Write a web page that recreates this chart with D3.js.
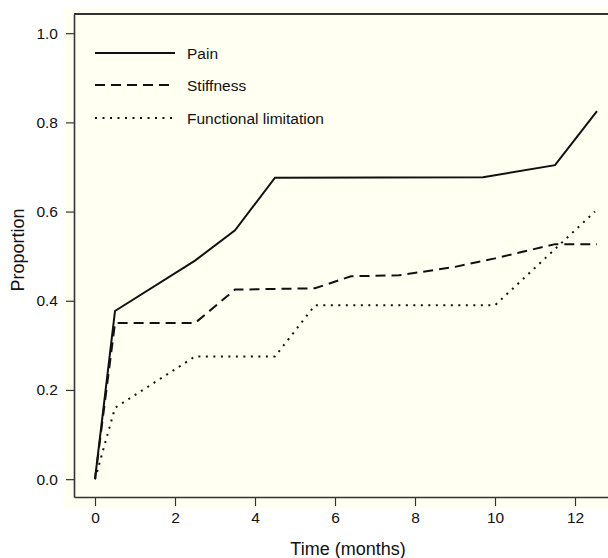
<!DOCTYPE html>
<meta charset="utf-8">
<style>
    body { margin: 0; background: #fff; }
    text { font-family: "Liberation Sans", Arial, sans-serif; fill: #111; }
    .line { fill: none; stroke: #111; stroke-width: 2; }
</style>
<body>
<script src="https://d3js.org/d3.v7.min.js"></script>
<script>
    // values
    const painMonths = [0, 0.5, 2.5, 3.5, 4.5, 9.7, 11.5, 12.55];
    const painValues = [0, 0.377, 0.49, 0.558, 0.676, 0.677, 0.704, 0.825];
    const stiffMonths = [0, 0.5, 2.5, 3.5, 5.5, 6.4, 7.6, 9, 10, 11.5, 12.55];
    const stiffValues = [0, 0.35, 0.35, 0.425, 0.428, 0.455, 0.457, 0.476, 0.495, 0.527, 0.527];
    const funcMonths = [0, 0.5, 2.5, 4.5, 5.5, 10, 12.5];
    const funcValues = [0, 0.16, 0.275, 0.275, 0.39, 0.39, 0.6];

    const seriesNames = ["Pain", "Stiffness", "Functional limitation"];
    const xTicks = [0, 2, 4, 6, 8, 10, 12];
    const yTicks = [0, 0.2, 0.4, 0.6, 0.8, 1.0];

    const width = 608, height = 558;
    const plot = {left: 74, top: 14, right: 609, bottom: 497};

    let x = d3.scaleLinear().domain([-0.525, 12.85]).range([plot.left, plot.right]);
    let y = d3.scaleLinear().domain([-0.04, 1.043]).range([plot.bottom, plot.top]);

    let svg = d3.select("body").append("svg")
        .attr("width", width)
        .attr("height", height);

    // cream panel behind the plot
    svg.append("rect")
        .attr("x", 63).attr("y", 7)
        .attr("width", width - 63).attr("height", 502)
        .attr("fill", "#fffff2");

    // frame: top line
    svg.append("line")
        .attr("x1", plot.left).attr("x2", width)
        .attr("y1", plot.top).attr("y2", plot.top)
        .attr("stroke", "#333").attr("stroke-width", 2);

    // axes
    svg.append("g")
        .attr("transform", "translate(" + plot.left + ",0)")
        .call(d3.axisLeft(y).tickValues(yTicks).tickFormat(d3.format(".1f"))
            .tickSize(8).tickSizeOuter(0).tickPadding(8));

    svg.append("g")
        .attr("transform", "translate(0," + plot.bottom + ")")
        .call(d3.axisBottom(x).tickValues(xTicks).tickFormat(d3.format("d"))
            .tickSize(9).tickSizeOuter(0).tickPadding(6));

    svg.selectAll(".domain").attr("stroke", "#333").attr("stroke-width", 1.6);
    svg.selectAll(".tick line").attr("stroke", "#333").attr("stroke-width", 1.2);
    svg.selectAll(".tick text").style("font-size", "15.5px").attr("fill", "#111");

    // axis titles
    svg.append("text")
        .attr("x", 348).attr("y", 555)
        .attr("text-anchor", "middle")
        .style("font-size", "18px")
        .text("Time (months)");

    svg.append("text")
        .attr("transform", "translate(24,250) rotate(-90)")
        .attr("text-anchor", "middle")
        .style("font-size", "18px")
        .text("Proportion");

    // lines
    const line = d3.line().x(d => x(d[0])).y(d => y(d[1]));
    const dashes = [null, "10,6", "2,5.5"];
    const series = [
        d3.zip(painMonths, painValues),
        d3.zip(stiffMonths, stiffValues),
        d3.zip(funcMonths, funcValues)
    ];

    svg.selectAll(".series")
        .data(series)
      .enter().append("path")
        .attr("class", "line series")
        .attr("stroke-dasharray", (d, i) => dashes[i])
        .attr("d", line);

    // legend
    const legendY = [53, 85, 118];
    let legend = svg.selectAll(".legend")
        .data(seriesNames)
      .enter().append("g")
        .attr("class", "legend")
        .attr("transform", (d, i) => "translate(95," + legendY[i] + ")");

    legend.append("line")
        .attr("class", "line")
        .attr("x1", 0).attr("x2", 80)
        .attr("stroke-dasharray", (d, i) => dashes[i]);

    legend.append("text")
        .attr("x", 92).attr("dy", "0.36em")
        .style("font-size", "15.5px")
        .text(d => d);
</script>
</body>
